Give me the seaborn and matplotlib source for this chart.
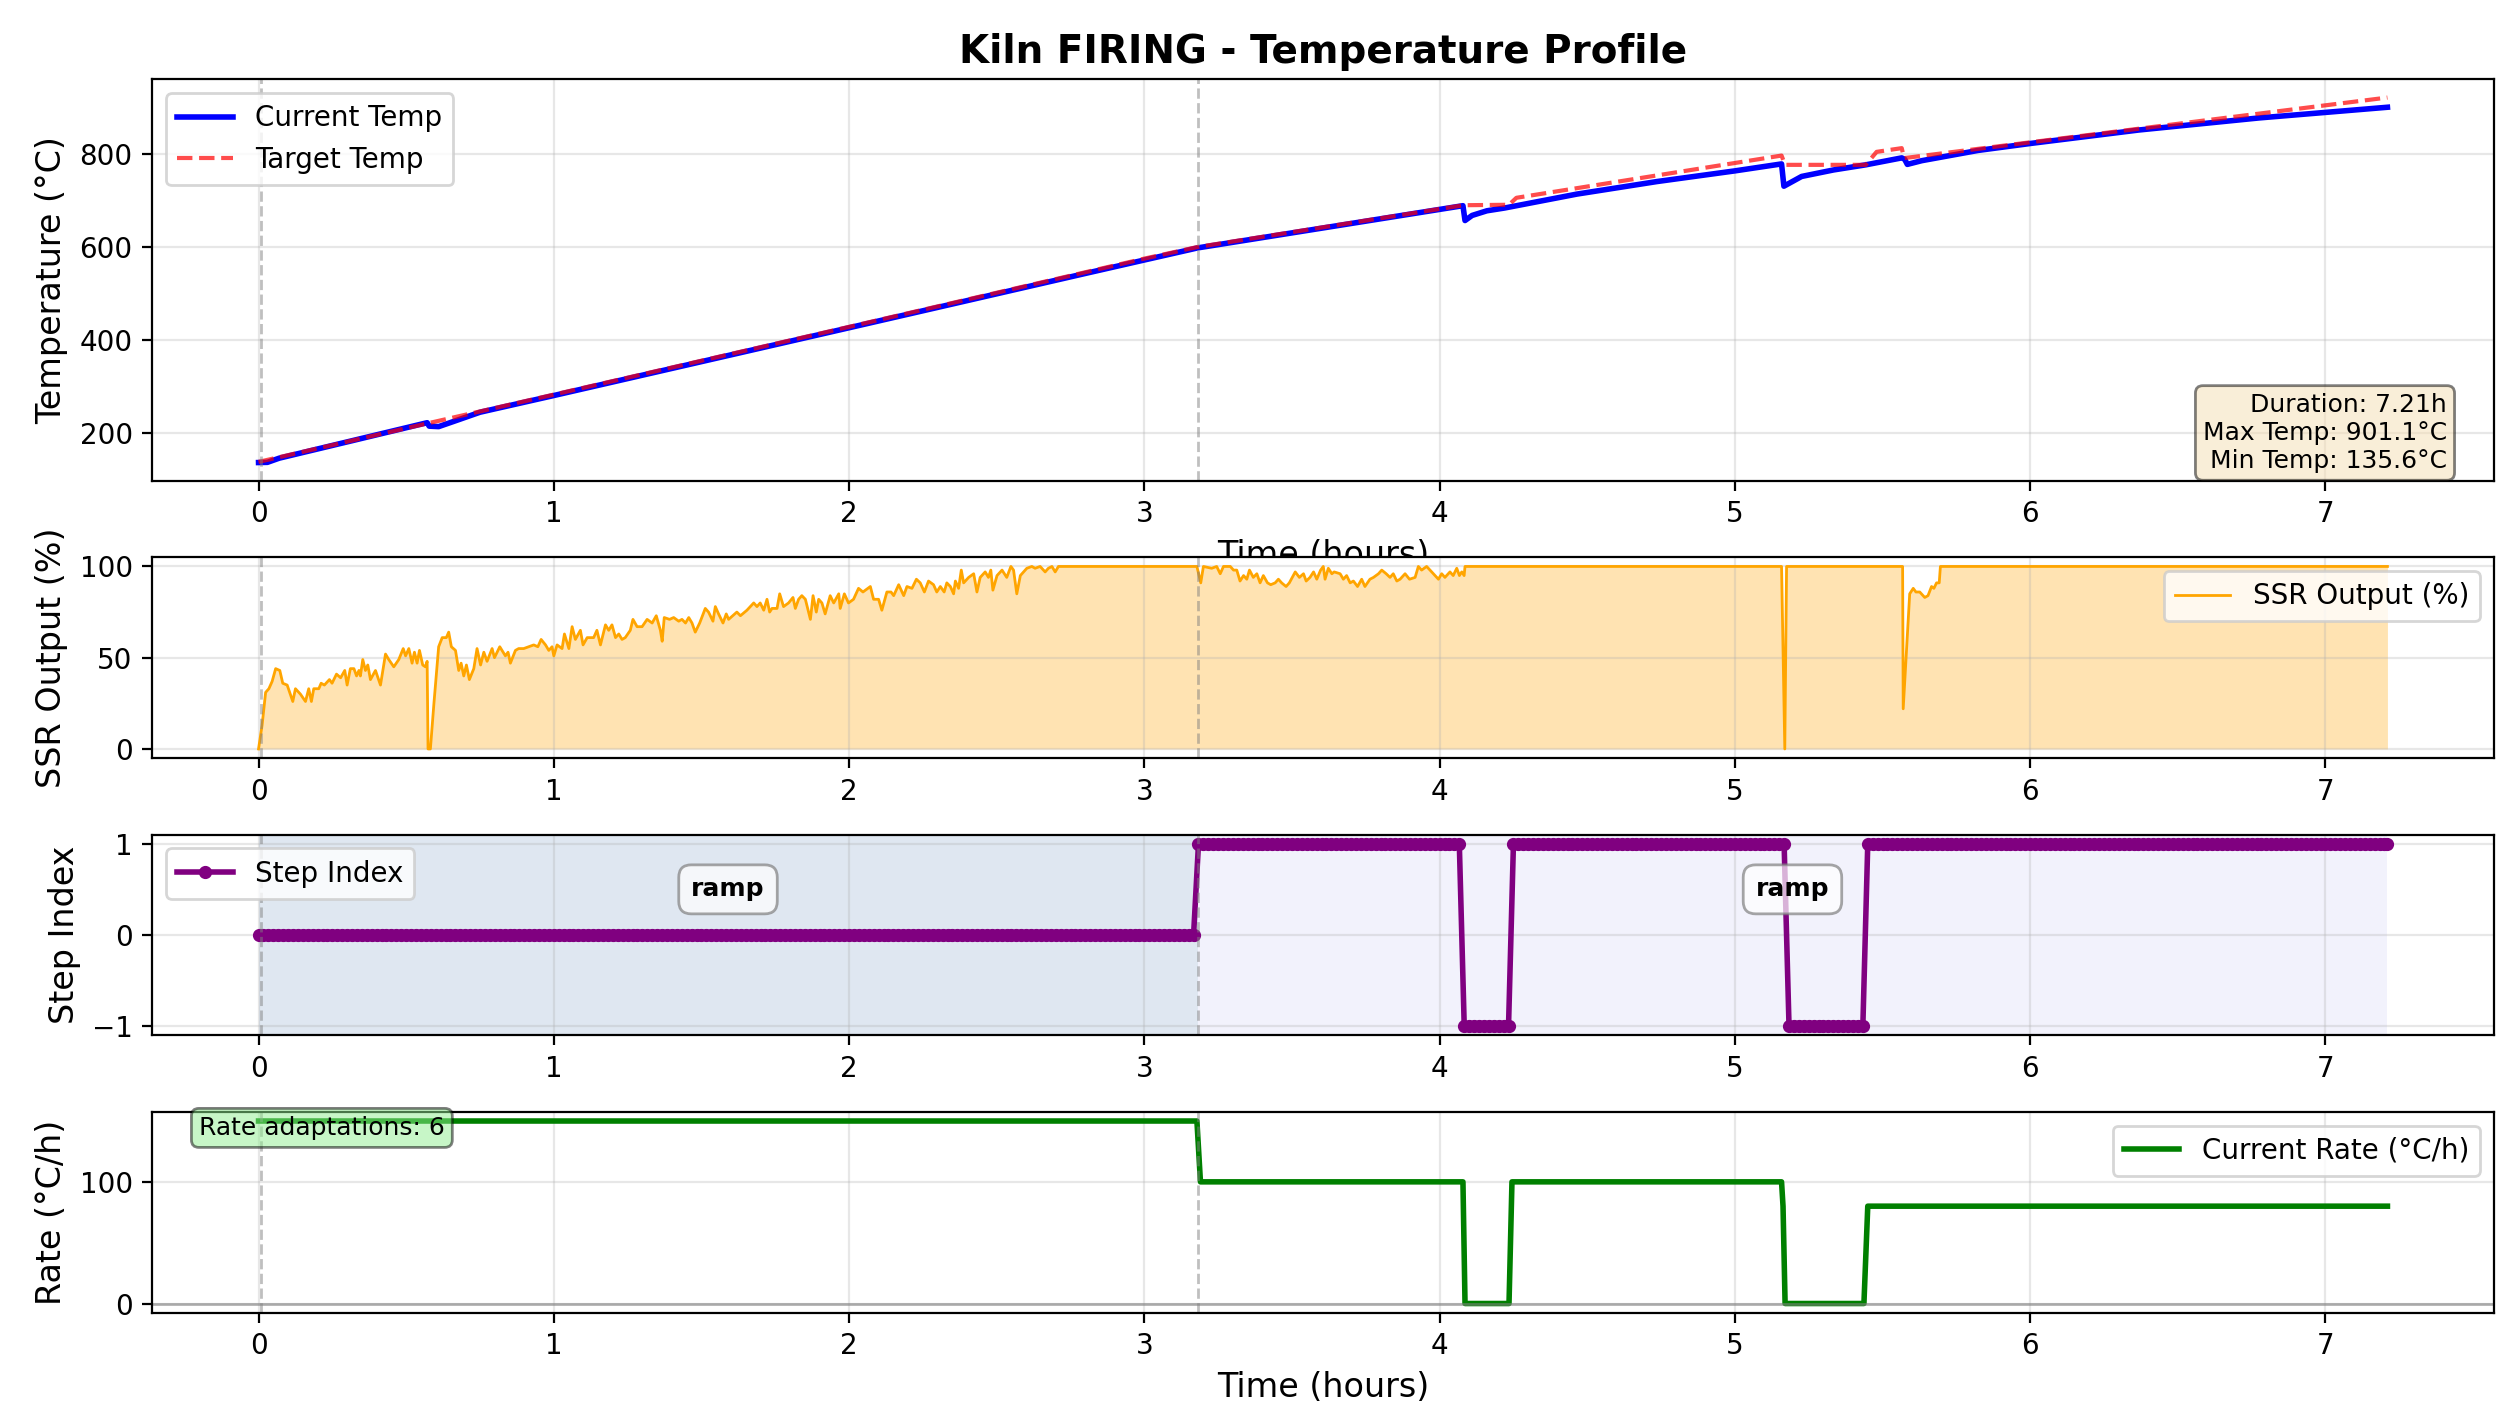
import numpy as np
import seaborn as sns
import matplotlib.pyplot as plt

# ---- temperature profile (hours, deg C) ----
current_time = [0, 0.03, 0.07, 0.571, 0.578, 0.61, 0.66, 0.75, 1.0, 2.0, 2.8, 3.0, 3.18,
                4.079, 4.086, 4.11, 4.16, 4.22, 4.465, 4.736, 5.0, 5.158, 5.166, 5.226,
                5.334, 5.443, 5.565, 5.575, 5.584, 5.633, 5.823, 6.0, 6.367, 6.774, 7.21]
current_temp = [135.6, 136, 145, 221.4, 214, 213, 224, 244, 280, 426, 543, 572, 598,
                689, 657, 668, 678, 684, 714, 741, 764, 779, 731, 752,
                766, 777, 792, 789, 778, 786, 808, 823, 852, 878, 901.1]

target_time = [0, 1.0, 2.0, 3.0, 3.18, 4.08, 4.235, 4.26, 5.158, 5.17, 5.443, 5.48, 5.565, 5.573, 7.21]
target_temp = [137, 282, 428, 575, 600, 690, 691, 706, 797, 777, 777, 805, 813, 791.5, 922]

# ---- SSR output (%) ----
ssr_time = [
    0.000, 0.012, 0.024, 0.035, 0.046, 0.058, 0.072, 0.082, 0.097, 0.116,
    0.125, 0.142, 0.159, 0.170, 0.179, 0.187, 0.204, 0.212, 0.223, 0.240,
    0.249, 0.264, 0.278, 0.292, 0.300, 0.311, 0.323, 0.332, 0.340, 0.345,
    0.353, 0.362, 0.370, 0.379, 0.396, 0.413, 0.430, 0.441, 0.458, 0.475,
    0.490, 0.498, 0.509, 0.520, 0.528, 0.537, 0.545, 0.556, 0.565, 0.571,
    0.574, 0.582, 0.594, 0.610, 0.622, 0.636, 0.644, 0.653, 0.667, 0.678,
    0.686, 0.695, 0.704, 0.714, 0.729, 0.740, 0.752, 0.763, 0.774, 0.791,
    0.799, 0.817, 0.836, 0.845, 0.853, 0.870, 0.881, 0.898, 0.915, 0.932,
    0.946, 0.957, 0.972, 0.983, 0.994, 1.000, 1.011, 1.028, 1.036, 1.051,
    1.062, 1.073, 1.090, 1.099, 1.113, 1.124, 1.135, 1.146, 1.158, 1.175,
    1.186, 1.197, 1.209, 1.220, 1.231, 1.242, 1.259, 1.268, 1.282, 1.299,
    1.316, 1.333, 1.347, 1.361, 1.367, 1.374, 1.392, 1.406, 1.423, 1.434,
    1.446, 1.457, 1.468, 1.479, 1.494, 1.513, 1.524, 1.539, 1.547, 1.558,
    1.573, 1.584, 1.592, 1.620, 1.632, 1.654, 1.677, 1.688, 1.699, 1.711,
    1.722, 1.731, 1.739, 1.756, 1.765, 1.778, 1.795, 1.810, 1.818, 1.829,
    1.840, 1.852, 1.869, 1.878, 1.889, 1.897, 1.908, 1.919, 1.936, 1.948,
    1.965, 1.970, 1.984, 1.998, 2.015, 2.032, 2.047, 2.072, 2.083, 2.100,
    2.111, 2.128, 2.142, 2.151, 2.168, 2.185, 2.196, 2.213, 2.228, 2.241,
    2.255, 2.269, 2.286, 2.297, 2.309, 2.322, 2.331, 2.343, 2.354, 2.360,
    2.371, 2.380, 2.388, 2.405, 2.422, 2.433, 2.444, 2.461, 2.472, 2.480,
    2.487, 2.501, 2.518, 2.534, 2.548, 2.557, 2.568, 2.580, 2.602, 2.619,
    2.630, 2.647, 2.664, 2.675, 2.687, 2.698, 2.709, 3.178, 3.191, 3.200,
    3.228, 3.245, 3.257, 3.268, 3.291, 3.302, 3.313, 3.324, 3.336, 3.347,
    3.356, 3.369, 3.381, 3.392, 3.403, 3.417, 3.428, 3.443, 3.454, 3.465,
    3.480, 3.491, 3.511, 3.525, 3.539, 3.548, 3.561, 3.573, 3.584, 3.597,
    3.606, 3.612, 3.623, 3.635, 3.643, 3.663, 3.674, 3.685, 3.697, 3.708,
    3.722, 3.736, 3.747, 3.764, 3.776, 3.793, 3.804, 3.819, 3.832, 3.843,
    3.855, 3.866, 3.883, 3.898, 3.917, 3.928, 3.939, 3.956, 3.973, 3.984,
    3.996, 4.007, 4.018, 4.035, 4.046, 4.058, 4.067, 4.075, 4.083, 4.086,
    5.158, 5.169, 5.175, 5.568, 5.570, 5.592, 5.604, 5.613, 5.626, 5.643,
    5.654, 5.666, 5.674, 5.683, 5.692, 5.696, 7.210]
ssr_pct = [
    0, 13, 31, 33, 37, 44, 43, 36, 35, 26,
    33, 30, 26, 33, 26, 33, 33, 36, 35, 38,
    36, 41, 39, 43, 35, 44, 44, 40, 43, 40,
    49, 43, 46, 38, 43, 35, 52, 49, 45, 49,
    55, 51, 55, 47, 53, 47, 54, 46, 45, 48,
    0, 0, 25, 56, 61, 61, 64, 56, 54, 43,
    47, 40, 46, 38, 44, 55, 46, 53, 48, 55,
    50, 56, 51, 53, 47, 54, 55, 55, 56, 57,
    56, 60, 57, 54, 56, 51, 57, 55, 63, 55,
    67, 60, 65, 57, 61, 61, 61, 65, 57, 68,
    65, 68, 61, 63, 60, 61, 65, 71, 67, 67,
    71, 69, 73, 65, 59, 72, 71, 72, 70, 71,
    69, 72, 69, 64, 69, 77, 75, 70, 78, 74,
    69, 74, 71, 75, 73, 76, 80, 78, 80, 76,
    82, 75, 77, 77, 85, 78, 80, 83, 77, 82,
    84, 82, 71, 84, 75, 82, 80, 74, 84, 80,
    85, 77, 85, 80, 82, 88, 86, 89, 82, 82,
    76, 86, 86, 84, 90, 84, 89, 88, 93, 91,
    86, 92, 90, 86, 89, 86, 91, 89, 85, 92,
    88, 98, 91, 94, 96, 86, 94, 97, 94, 98,
    87, 95, 98, 94, 100, 98, 85, 95, 99, 100,
    99, 100, 97, 99, 100, 97, 100, 100, 91, 100,
    99, 100, 96, 100, 100, 98, 98, 92, 95, 93,
    98, 94, 96, 91, 95, 91, 90, 91, 93, 91,
    89, 91, 97, 94, 96, 92, 94, 97, 93, 98,
    100, 93, 99, 96, 97, 96, 93, 95, 91, 92,
    89, 93, 89, 93, 94, 96, 98, 96, 94, 96,
    92, 93, 96, 93, 94, 100, 98, 100, 97, 95,
    93, 96, 94, 97, 95, 99, 95, 97, 95, 100,
    100, 0, 100, 100, 22, 85, 88, 86, 86, 83,
    84, 89, 88, 91, 91, 100, 100]

# ---- step index (changes) and program steps ----
step_change_time = [0, 3.18, 4.083, 4.24, 5.168, 5.443]
step_change_value = [0, 1, -1, 1, -1, 1]
log_interval_h = 1 / 60          # controller logs once a minute
end_time = 7.21

program_step_start = [0, 3.18]
program_step_end = [3.18, 7.21]
program_step_name = ['ramp', 'ramp']
program_step_color = [(176/255, 196/255, 222/255, 0.4), (230/255, 230/255, 250/255, 0.5)]
step_marker_time = [0.01, 3.18]

# ---- rate (deg C / h) ----
rate_time = [0, 3.178, 3.19, 4.079, 4.086, 4.235, 4.245, 5.158, 5.163, 5.17, 5.437, 5.45, 7.21]
rate_value = [150, 150, 100, 100, 0, 0, 100, 100, 80, 0, 0, 80, 80]

# step index as logged
t_log = np.append(np.arange(0, end_time, log_interval_h), end_time)
step_log = np.array(step_change_value)[np.searchsorted(step_change_time, t_log, side='right') - 1]

fig = plt.figure(figsize=(12.57, 7.08), dpi=200)
gs = fig.add_gridspec(4, 1, height_ratios=[2, 1, 1, 1], left=0.0605, right=0.992,
                      top=0.9440, bottom=0.0730, hspace=0.305)
ax1 = fig.add_subplot(gs[0])
ax2 = fig.add_subplot(gs[1])
ax3 = fig.add_subplot(gs[2])
ax4 = fig.add_subplot(gs[3])

# Temperature
sns.lineplot(x=current_time, y=current_temp, ax=ax1, color='blue', linewidth=2,
             label='Current Temp', estimator=None, sort=False)
sns.lineplot(x=target_time, y=target_temp, ax=ax1, color='red', linestyle='--',
             linewidth=1.5, alpha=0.7, label='Target Temp', estimator=None, sort=False)
stats = (f"Duration: {max(current_time):.2f}h\n"
         f"Max Temp: {max(current_temp):.1f}°C\n"
         f"Min Temp: {min(current_temp):.1f}°C")
ax1.text(0.98, 0.02, stats, transform=ax1.transAxes, fontsize=9, ha='right', va='bottom',
         bbox=dict(boxstyle='round', facecolor='wheat', alpha=0.5))
ax1.set_title('Kiln FIRING - Temperature Profile', fontsize=14, fontweight='bold')
ax1.set_xlabel('Time (hours)', fontsize=12)
ax1.set_ylabel('Temperature (°C)', fontsize=12)
ax1.legend(loc='upper left')

# SSR output
sns.lineplot(x=ssr_time, y=ssr_pct, ax=ax2, color='orange', linewidth=1,
             label='SSR Output (%)', estimator=None, sort=False)
ax2.fill_between(ssr_time, ssr_pct, color='orange', alpha=0.3, linewidth=0)
ax2.set_xlabel('')
ax2.set_ylabel('SSR Output (%)', fontsize=12)
ax2.legend(loc='upper right')

# Step index
for start, end, name, col in zip(program_step_start, program_step_end,
                                 program_step_name, program_step_color):
    ax3.axvspan(start, end, color=col, linewidth=0)
    ax3.text((start + end) / 2, 0.5, name, ha='center', va='center', fontsize=9,
             fontweight='bold',
             bbox=dict(boxstyle='round,pad=0.5', facecolor='white', alpha=0.7, edgecolor='gray'))
sns.lineplot(x=t_log, y=step_log, ax=ax3, color='purple', linewidth=2, marker='o',
             markersize=4, markeredgecolor='purple', label='Step Index',
             estimator=None, sort=False)
ax3.set_yticks([-1, 0, 1])
ax3.set_xlabel('')
ax3.set_ylabel('Step Index', fontsize=12)
ax3.legend(loc='upper left')

# Rate
sns.lineplot(x=rate_time, y=rate_value, ax=ax4, color='green', linewidth=2,
             label='Current Rate (°C/h)', estimator=None, sort=False)
ax4.axhline(0, color='gray', linewidth=1, alpha=0.6)
n_adapt = int(np.count_nonzero(np.diff(rate_value)))
ax4.text(0.02, 0.98, f'Rate adaptations: {n_adapt}', transform=ax4.transAxes, fontsize=9,
         va='top', bbox=dict(boxstyle='round', facecolor='lightgreen', alpha=0.5))
ax4.set_xlabel('Time (hours)', fontsize=12)
ax4.set_ylabel('Rate (°C/h)', fontsize=12)
ax4.legend(loc='upper right')

for ax in (ax1, ax2, ax3, ax4):
    for t in step_marker_time:
        ax.axvline(t, color='gray', linestyle='--', alpha=0.5, linewidth=1)
    ax.grid(True, alpha=0.3)

fig.savefig('out.png', dpi=200)
